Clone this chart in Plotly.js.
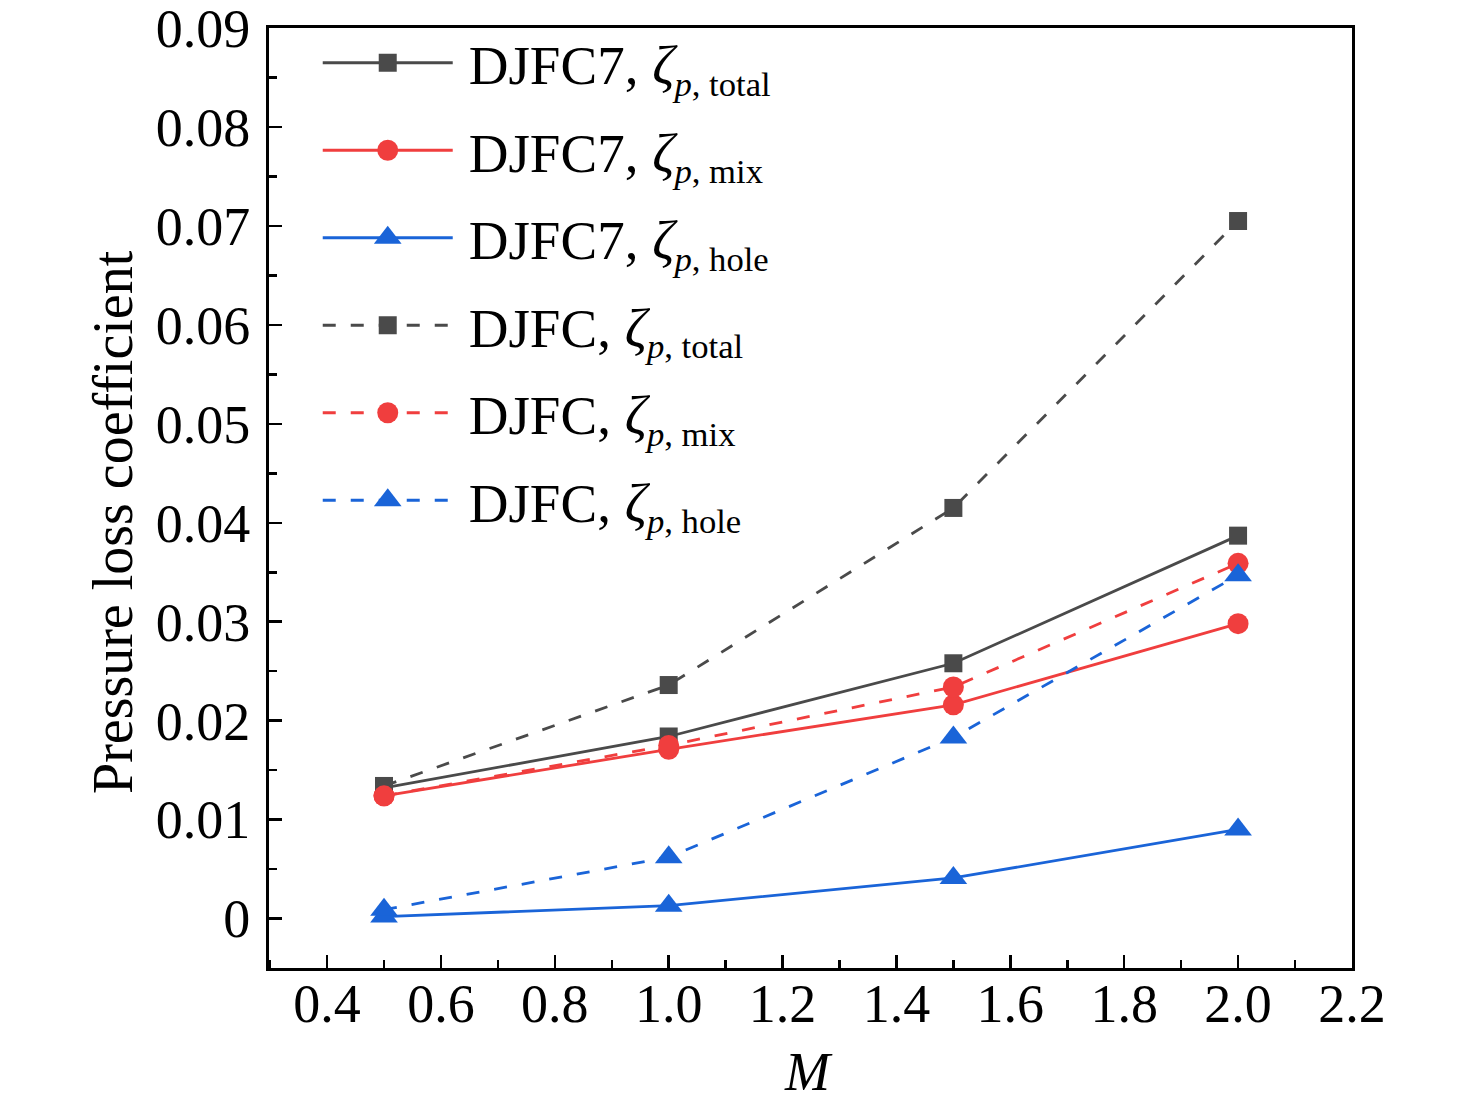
<!DOCTYPE html>
<html>
<head>
<meta charset="utf-8">
<script src="https://cdn.plot.ly/plotly-3.0.1.min.js"></script>
<style>
  html, body { margin: 0; padding: 0; background: #ffffff; }
  #chart { width: 1476px; height: 1109px; }
</style>
</head>
<body>
<div id="chart"></div>
<script>
// ---- Data ----
const M = [0.5, 1.0, 1.5, 2.0];

const djfc7Total = [0.0132, 0.0184, 0.0258, 0.0387];
const djfc7Mix   = [0.0124, 0.0171, 0.0216, 0.0298];
const djfc7Hole  = [0.0002, 0.0013, 0.0041, 0.0090];
const djfcTotal  = [0.0134, 0.0236, 0.0415, 0.0705];
const djfcMix    = [0.0124, 0.0175, 0.0234, 0.0359];
const djfcHole   = [0.0009, 0.0062, 0.0183, 0.0347];

const seriesNames = [
  '\u2009DJFC7, <i>ζ</i><sub><span style="font-size:0.9em"><i>p</i>, total</span></sub>',
  '\u2009DJFC7, <i>ζ</i><sub><span style="font-size:0.9em"><i>p</i>, mix</span></sub>',
  '\u2009DJFC7, <i>ζ</i><sub><span style="font-size:0.9em"><i>p</i>, hole</span></sub>',
  '\u2009DJFC, <i>ζ</i><sub><span style="font-size:0.9em"><i>p</i>, total</span></sub>',
  '\u2009DJFC, <i>ζ</i><sub><span style="font-size:0.9em"><i>p</i>, mix</span></sub>',
  '\u2009DJFC, <i>ζ</i><sub><span style="font-size:0.9em"><i>p</i>, hole</span></sub>'
];

const xTickVals = [0.4, 0.6, 0.8, 1.0, 1.2, 1.4, 1.6, 1.8, 2.0, 2.2];
const xTickText = ['0.4', '0.6', '0.8', '1.0', '1.2', '1.4', '1.6', '1.8', '2.0', '2.2'];
const yTickVals = [0, 0.01, 0.02, 0.03, 0.04, 0.05, 0.06, 0.07, 0.08, 0.09];
const yTickText = ['0', '0.01', '0.02', '0.03', '0.04', '0.05', '0.06', '0.07', '0.08', '0.09'];
const xTitle = '<i>M</i>';
const yTitle = 'Pressure loss coefficient';

// ---- Styles ----
const GRAY = '#4a4a4a';
const RED = '#f03e3e';
const BLUE = '#1a64d8';
const DASH = '13px,15px';
const FONT = 'Liberation Serif, Times New Roman, serif';
const markerSizes = [18, 21, 24, 18, 21, 24];

function trace(y, name, color, symbol, size, dash, group) {
  return {
    x: M, y: y, name: name, type: 'scatter', mode: 'lines+markers',
    legendgroup: group,
    line: { color: color, width: 2.8, dash: dash },
    marker: { color: color, symbol: symbol, size: size }
  };
}

const data = [
  trace(djfc7Total, seriesNames[0], GRAY, 'square', markerSizes[0], 'solid', 'g1'),
  trace(djfc7Mix,   seriesNames[1], RED,  'circle', markerSizes[1], 'solid', 'g2'),
  trace(djfc7Hole,  seriesNames[2], BLUE, 'triangle-up', markerSizes[2], 'solid', 'g3'),
  trace(djfcTotal,  seriesNames[3], GRAY, 'square', markerSizes[3], DASH, 'g4'),
  trace(djfcMix,    seriesNames[4], RED,  'circle', markerSizes[4], DASH, 'g5'),
  trace(djfcHole,   seriesNames[5], BLUE, 'triangle-up', markerSizes[5], DASH, 'g6')
];

const layout = {
  width: 1476, height: 1109,
  margin: { l: 269, r: 124, t: 28, b: 141 },
  paper_bgcolor: '#ffffff', plot_bgcolor: '#ffffff',
  font: { family: FONT, size: 54, color: '#000000' },
  showlegend: true,
  legend: {
    x: 0.045, y: 1.008, xanchor: 'left', yanchor: 'top',
    bgcolor: 'rgba(0,0,0,0)', borderwidth: 0,
    font: { family: FONT, size: 55, color: '#000000' },
    itemwidth: 130, tracegroupgap: 13
  },
  xaxis: {
    range: [0.298, 2.2001],
    tickmode: 'array', tickvals: xTickVals, ticktext: xTickText,
    ticks: 'inside', ticklen: 13, tickwidth: 2.5, tickcolor: '#000',
    minor: { ticks: 'inside', ticklen: 8, tickwidth: 2.5, dtick: 0.1, tick0: 0.3, tickcolor: '#000' },
    showline: true, linewidth: 3, linecolor: '#000', mirror: true,
    showgrid: false, zeroline: false,
    ticklabelstandoff: -14, ticklabeloverflow: 'allow',
    tickfont: { family: FONT, size: 54 }
  },
  yaxis: {
    range: [-0.005, 0.09001],
    tickmode: 'array', tickvals: yTickVals, ticktext: yTickText,
    ticks: 'inside', ticklen: 13, tickwidth: 2.5, tickcolor: '#000',
    minor: { ticks: 'inside', ticklen: 8, tickwidth: 2.5, dtick: 0.005, tick0: 0, tickcolor: '#000' },
    showline: true, linewidth: 3, linecolor: '#000', mirror: true,
    showgrid: false, zeroline: false,
    ticklabelstandoff: 5, ticklabeloverflow: 'allow',
    tickfont: { family: FONT, size: 54 }
  },
  annotations: [{
    text: yTitle, xref: 'paper', yref: 'paper',
    x: -0.144, y: 0.4745, xanchor: 'center', yanchor: 'middle',
    textangle: -90, showarrow: false,
    font: { family: FONT, size: 56, color: '#000' }
  }, {
    text: xTitle, xref: 'paper', yref: 'paper',
    x: 0.4977, y: -0.1106, xanchor: 'center', yanchor: 'middle',
    showarrow: false,
    font: { family: FONT, size: 54, color: '#000' }
  }]
};

Plotly.newPlot('chart', data, layout, { displayModeBar: false, staticPlot: true }).then(function (gd) {
  // enlarge legend markers (Plotly caps them at 16px) to match the plot markers
  const items = gd.querySelectorAll('.legend .traces');
  items.forEach(function (item, i) {
    const s = Math.max(1, markerSizes[i] / 16);
    item.querySelectorAll('path.scatterpts').forEach(function (p) {
      const t = p.getAttribute('transform') || '';
      p.setAttribute('transform', t + ' scale(' + s + ')');
    });
  });
});
</script>
</body>
</html>
